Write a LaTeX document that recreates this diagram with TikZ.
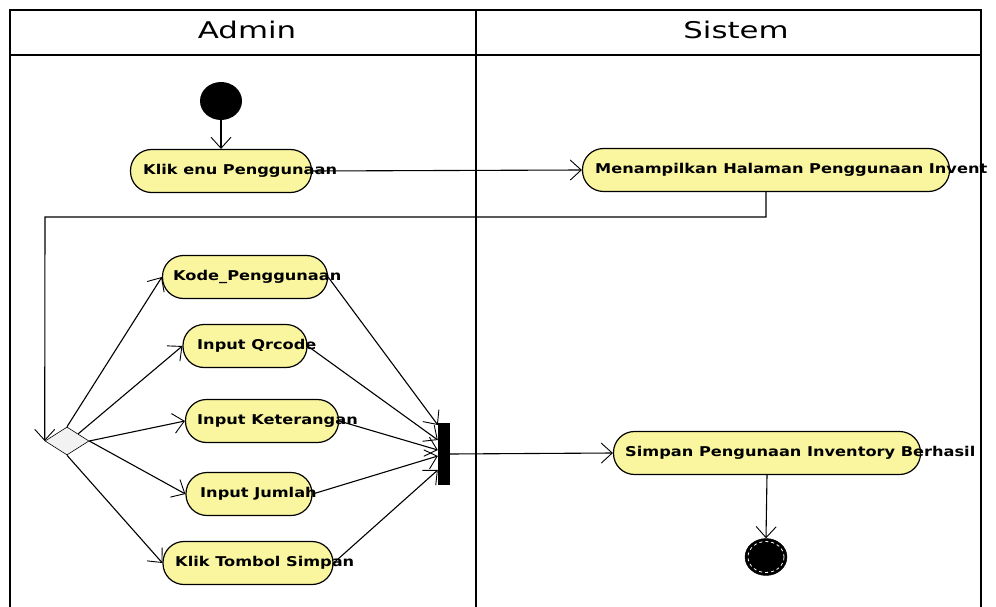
\documentclass[tikz,border=0pt]{standalone}
\usepackage{fontspec}
\usepackage{graphicx}
\setmainfont{DejaVu Sans}
\usetikzlibrary{arrows.meta,shapes.geometric}
\definecolor{actfill}{RGB}{250,246,160}
\definecolor{diafill}{RGB}{242,242,242}
\begin{document}
\begin{tikzpicture}[x=1pt,y=-1pt,
  act/.style={draw=black, line width=1.2pt, fill=actfill, rounded corners=21pt, inner sep=0pt, minimum height=43pt},
  txt/.style={anchor=west, inner sep=0pt, font=\bfseries\fontsize{13.5}{14}\selectfont},
  hdr/.style={inner sep=0pt, font=\fontsize{23}{24}\selectfont},
  lane/.style={line width=1.8pt},
  flow/.style={line width=1.1pt, -{Straight Barb[length=11pt,width=20pt,line width=0.9pt]}}
  ]
\useasboundingbox (0,0) rectangle (996,607);
% swimlanes
\draw[lane] (10,607) -- (10,10) -- (981,10) -- (981,607);
\draw[lane] (10,55) -- (981,55);
\draw[lane] (476,10) -- (476,607);
\node[hdr] (hadmin) at (247,30) {\scalebox{1.34}[1]{Admin}};
\node[hdr] (hsistem) at (736,30) {\scalebox{1.34}[1]{Sistem}};
% nodes
\node[ellipse, fill=black, minimum width=42pt, minimum height=38pt, inner sep=0pt] (start) at (221,101) {};
\node[act, minimum width=181pt] (klik) at (221,171) {};
\node[act, minimum width=367pt] (menam) at (766,170) {};
\node[act, minimum width=165pt] (kode) at (245,277) {};
\node[act, minimum width=124pt] (qr) at (245,346) {};
\node[act, minimum width=153pt] (ket) at (262,421) {};
\node[act, minimum width=126pt] (jml) at (249,494) {};
\node[act, minimum width=170pt] (tombol) at (248,563) {};
\node[act, minimum width=307pt] (simpan) at (767,453) {};
\node[diamond, draw=black, line width=0.6pt, fill=diafill, minimum width=44pt, minimum height=28pt, inner sep=0pt] (dia) at (67,441) {};
\node[fill=black, minimum width=12pt, minimum height=62pt, inner sep=0pt] (bar) at (444,454) {};
\node[ellipse, fill=black, draw=black, minimum width=42pt, minimum height=37pt, inner sep=0pt] (final) at (766,557) {};
\draw[white, line width=0.8pt, dashed] (final.center) ellipse (18pt and 15.5pt);
% connectors
\coordinate (turn) at (45,217);
\draw[flow] (start) -- (klik);
\draw[flow] (klik.east) -- (menam.west);
\draw[flow] (menam.south) |- (turn) -- (dia.west);
\draw[flow] (dia.north) -- (kode.west);
\draw[flow] (dia.north east) -- (qr.west);
\draw[flow] (dia.east) -- (ket.west);
\draw[flow] (dia.east) -- (jml.west);
\draw[flow] (dia.south) -- (tombol.west);
\draw[flow] (kode.east) -- ([yshift=29pt]bar.west);
\draw[flow] (qr.east) -- ([yshift=14pt]bar.west);
\draw[flow] (ket.east) -- ([yshift=4pt]bar.west);
\draw[flow] (jml.east) -- ([yshift=-2pt]bar.west);
\draw[flow] (tombol.east) -- ([yshift=-16pt]bar.west);
\draw[flow] (bar.east) -- (simpan.west);
\draw[flow] (simpan.south) -- (final.north);
% texts
\node[txt] (tklik) at (143,171) {\scalebox{1.2}[1]{Klik enu Penggunaan}};
\node[txt] (tmenam) at (595,170) {\scalebox{1.2}[1]{Menampilkan Halaman Penggunaan Invent}};
\node[txt] (tkode) at (173,277) {\scalebox{1.2}[1]{Kode\_Penggunaan}};
\node[txt] (tqr) at (197,346) {\scalebox{1.2}[1]{Input Qrcode}};
\node[txt] (tket) at (197,421) {\scalebox{1.2}[1]{Input Keterangan}};
\node[txt] (tjml) at (200,494) {\scalebox{1.2}[1]{Input Jumlah}};
\node[txt] (ttombol) at (175,563) {\scalebox{1.2}[1]{Klik Tombol Simpan}};
\node[txt] (tsimpan) at (625,453) {\scalebox{1.2}[1]{Simpan Pengunaan Inventory Berhasil}};
\end{tikzpicture}
\end{document}
